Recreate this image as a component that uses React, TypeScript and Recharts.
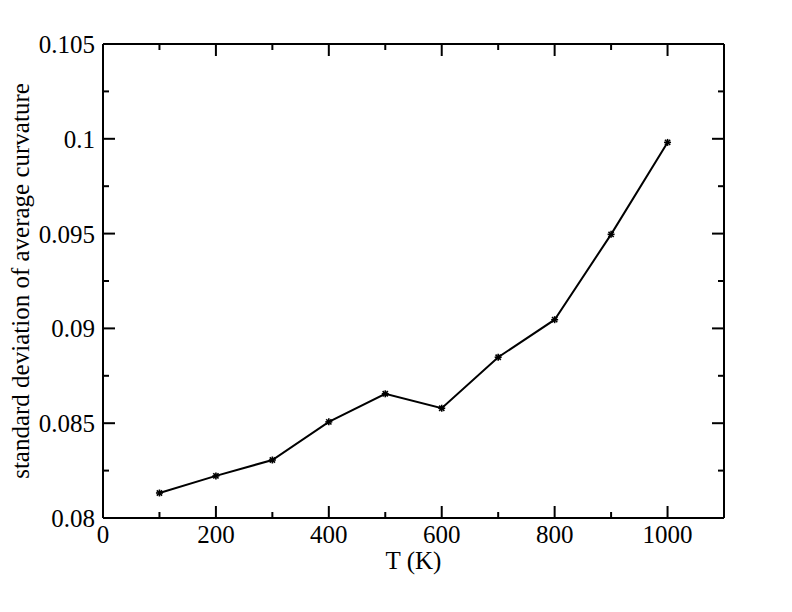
import { LineChart, Line, XAxis, YAxis } from 'recharts';

const temps = [100, 200, 300, 400, 500, 600, 700, 800, 900, 1000];
const stdCurvature = [0.08132, 0.08222, 0.08306, 0.08507, 0.08655, 0.08579, 0.08848, 0.09046, 0.09496, 0.09981];

const xMajor = [0, 200, 400, 600, 800, 1000];
const xMinor = [100, 300, 500, 700, 900, 1100];
const yMajor = [0.08, 0.085, 0.09, 0.095, 0.1, 0.105];
const yMinor = [0.0825, 0.0875, 0.0925, 0.0975, 0.1025];

const xTitle = 'T (K)';
const yTitle = 'standard deviation of average curvature';

const data = temps.map((t, i) => ({ t, v: stdCurvature[i] }));
const xTicks = [...xMajor, ...xMinor].sort((a, b) => a - b);
const yTicks = [...yMajor, ...yMinor].sort((a, b) => a - b);

const W = 792;
const H = 612;
const MARGIN = { top: 43, right: 67, bottom: 0, left: 0 };
const Y_AXIS_W = 103;
const X_AXIS_H = 94;
const PLOT_LEFT = MARGIN.left + Y_AXIS_W;
const PLOT_RIGHT = W - MARGIN.right - 1;
const PLOT_TOP = MARGIN.top + 1;
const PLOT_BOTTOM = H - MARGIN.bottom - X_AXIS_H;

const FONT = '"Liberation Serif", "Times New Roman", serif';
const MAJOR = 12;
const MINOR = 6;
// tiny tick size so tick coords sit on the axis line (0 falls back to the default)
const TS = 0.0001;

function BottomTick({ x, y, payload }: any) {
  const major = xMajor.includes(payload.value);
  return (
    <g>
      <line x1={x} x2={x} y1={y} y2={y - (major ? MAJOR : MINOR)} stroke="#000" strokeWidth={2} />
      <text x={x} y={600} fontSize={10} fill="none">{Math.round(y)}</text>
      {major && (
        <text x={x} y={y + 25} textAnchor="middle" fontFamily={FONT} fontSize={25} fill="#000">
          {payload.value}
        </text>
      )}
    </g>
  );
}

function TopTick({ x, y, payload }: any) {
  const major = xMajor.includes(payload.value);
  return (
    <g>
      <line x1={x} x2={x} y1={y} y2={y + (major ? MAJOR : MINOR)} stroke="#000" strokeWidth={2} />
      <text x={x} y={20} fontSize={10} fill="none">{Math.round(y)}</text>
    </g>
  );
}

// left tick also draws the matching mark on the right frame
function LeftTick({ x, y, payload }: any) {
  const major = yMajor.includes(payload.value);
  const len = major ? MAJOR : MINOR;
  return (
    <g>
      <line x1={x} x2={x + len} y1={y} y2={y} stroke="#000" strokeWidth={2} />
      <line x1={PLOT_RIGHT} x2={PLOT_RIGHT - len} y1={y} y2={y} stroke="#000" strokeWidth={2} />
      {major && (
        <text x={x - 8} y={y + 9} textAnchor="end" fontFamily={FONT} fontSize={25} fill="#000">
          {String(payload.value)}
        </text>
      )}
    </g>
  );
}

function RightTick({ x, y, payload }: any) {
  const major = yMajor.includes(payload.value);
  return (
    <g>
      <line x1={x} x2={x - (major ? MAJOR : MINOR)} y1={y} y2={y} stroke="#000" strokeWidth={2} />
    </g>
  );
}

function StarDot({ cx, cy }: any) {
  const r = 3.5;
  return (
    <g stroke="#000" strokeWidth={1.6}>
      <line x1={cx - r} x2={cx + r} y1={cy} y2={cy} />
      <line x1={cx} x2={cx} y1={cy - r} y2={cy + r} />
      <line x1={cx - r * 0.75} x2={cx + r * 0.75} y1={cy - r * 0.75} y2={cy + r * 0.75} />
      <line x1={cx - r * 0.75} x2={cx + r * 0.75} y1={cy + r * 0.75} y2={cy - r * 0.75} />
    </g>
  );
}

const axisLine = { stroke: '#000', strokeWidth: 2 };

export default function App() {
  const midX = (PLOT_LEFT + PLOT_RIGHT) / 2;
  const midY = (PLOT_TOP + PLOT_BOTTOM) / 2;
  return (
    <div style={{ position: 'absolute', left: 0, top: 0, width: W, height: H, background: '#fff' }}>
      <LineChart width={W} height={H} data={data} margin={MARGIN}>
        <XAxis xAxisId="b" dataKey="t" type="number" domain={[0, 1100]} ticks={xTicks} interval={0} height={X_AXIS_H}
          tickSize={TS} tickMargin={0} tickLine={false} axisLine={axisLine} tick={<BottomTick />} />
        <XAxis xAxisId="t" orientation="top" dataKey="t" type="number" domain={[0, 1100]} ticks={xTicks} interval={0} height={1}
          tickSize={TS} tickMargin={0} tickLine={false} axisLine={axisLine} tick={<TopTick />} />
        <YAxis yAxisId="l" type="number" domain={[0.08, 0.105]} ticks={yTicks} interval={0} width={Y_AXIS_W}
          tickSize={TS} tickMargin={0} tickLine={false} axisLine={axisLine} tick={<LeftTick />} />
        <YAxis yAxisId="r" orientation="right" type="number" domain={[0.08, 0.105]} ticks={yTicks} interval={0} width={1}
          tickSize={TS} tickMargin={0} tickLine={false} axisLine={axisLine} tick={<RightTick />} />
        <Line xAxisId="b" yAxisId="l" dataKey="v" type="linear" stroke="#000" strokeWidth={2}
          dot={<StarDot />} activeDot={false} isAnimationActive={false} />
      </LineChart>
      {/* axis titles */}
      <svg width={W} height={H} style={{ position: 'absolute', left: 0, top: 0, pointerEvents: 'none' }}>
        <text x={midX} y={PLOT_BOTTOM + 51} textAnchor="middle" fontFamily={FONT} fontSize={25} fill="#000">
          {xTitle}
        </text>
        <text x={29} y={midY} transform={`rotate(-90, 29, ${midY})`} textAnchor="middle" fontFamily={FONT} fontSize={25} fill="#000">
          {yTitle}
        </text>
      </svg>
    </div>
  );
}
